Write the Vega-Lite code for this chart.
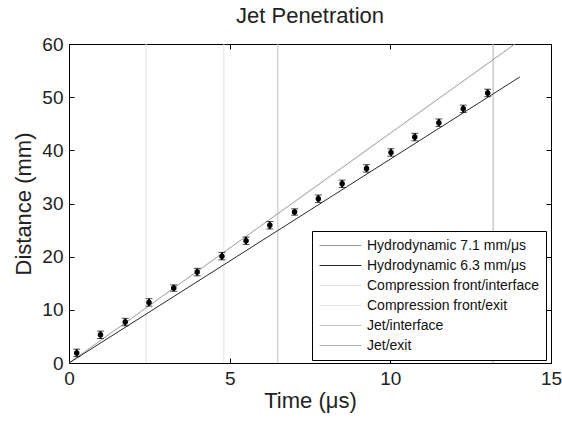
{
  "$schema": "https://vega.github.io/schema/vega-lite/v6.json",
  "autosize": {"type": "none"},
  "width": 482,
  "height": 319,
  "padding": {"left": 69, "top": 44, "right": 11, "bottom": 58},
  "background": "white",
  "title": {"text": "Jet Penetration", "font": "Liberation Sans", "fontSize": 22, "fontWeight": "normal", "color": "#222", "offset": 7, "anchor": "middle"},
  "config": {
    "view": {"stroke": "black", "strokeWidth": 1},
    "axis": {
      "grid": false,
      "domainColor": "black",
      "tickColor": "black",
      "tickSize": -5,
      "labelFont": "Liberation Sans",
      "labelFontSize": 19,
      "labelColor": "#222",
      "titleFont": "Liberation Sans",
      "titleFontSize": 22,
      "titleFontWeight": "normal",
      "titleColor": "#222"
    },
    "legend": {
      "orient": "none",
      "legendX": 243,
      "legendY": 187,
      "title": null,
      "strokeColor": "black",
      "fillColor": "white",
      "padding": 7,
      "rowPadding": 5,
      "symbolType": "M-1,0H5",
      "symbolSize": 196,
      "symbolStrokeWidth": 1,
      "symbolFillColor": "transparent",
      "labelFont": "Liberation Sans",
      "labelFontSize": 14,
      "labelColor": "#111",
      "labelOffset": 33,
      "labelLimit": 300
    }
  },
  "datasets": {
    "points": [
      {"t": 0.24, "d": 1.9, "err": 0.7},
      {"t": 0.98, "d": 5.3, "err": 0.7},
      {"t": 1.75, "d": 7.7, "err": 0.7},
      {"t": 2.49, "d": 11.4, "err": 0.7},
      {"t": 3.26, "d": 14.1, "err": 0.6},
      {"t": 3.99, "d": 17.1, "err": 0.7},
      {"t": 4.76, "d": 20.1, "err": 0.7},
      {"t": 5.51, "d": 23.0, "err": 0.7},
      {"t": 6.25, "d": 25.9, "err": 0.7},
      {"t": 7.02, "d": 28.4, "err": 0.6},
      {"t": 7.76, "d": 30.9, "err": 0.7},
      {"t": 8.50, "d": 33.7, "err": 0.7},
      {"t": 9.26, "d": 36.6, "err": 0.7},
      {"t": 10.02, "d": 39.6, "err": 0.7},
      {"t": 10.76, "d": 42.5, "err": 0.7},
      {"t": 11.51, "d": 45.2, "err": 0.7},
      {"t": 12.27, "d": 47.8, "err": 0.7},
      {"t": 13.03, "d": 50.8, "err": 0.7}
    ],
    "lines": [
      {"series": "Hydrodynamic 7.1 mm/\u03bcs", "t": 0, "d": 0},
      {"series": "Hydrodynamic 7.1 mm/\u03bcs", "t": 13.88, "d": 60},
      {"series": "Hydrodynamic 6.3 mm/\u03bcs", "t": 0, "d": 0},
      {"series": "Hydrodynamic 6.3 mm/\u03bcs", "t": 14.03, "d": 53.8}
    ],
    "vlines": [
      {"series": "Compression front/interface", "t": 2.4},
      {"series": "Compression front/exit", "t": 4.82},
      {"series": "Jet/interface", "t": 6.5},
      {"series": "Jet/exit", "t": 13.2}
    ]
  },
  "resolve": {"axis": {"x": "independent", "y": "independent"}},
  "layer": [
    {
      "data": {"name": "vlines"},
      "mark": {"type": "rule", "strokeWidth": 1},
      "encoding": {
        "x": {"field": "t", "type": "quantitative", "scale": {"domain": [0, 15], "nice": false},
              "axis": {"orient": "bottom", "title": "Time (\u03bcs)", "values": [0, 5, 10, 15], "labelPadding": 11, "titlePadding": 2, "labelFlush": false}},
        "color": {"field": "series", "type": "nominal",
          "scale": {"domain": ["Hydrodynamic 7.1 mm/\u03bcs", "Hydrodynamic 6.3 mm/\u03bcs", "Compression front/interface", "Compression front/exit", "Jet/interface", "Jet/exit"],
                    "range": ["#9a9a9a", "#2a2a2a", "#e4e1da", "#e2e2e2", "#c2c2c2", "#b0b0b0"]}}
      }
    },
    {
      "data": {"name": "lines"},
      "mark": {"type": "line", "strokeWidth": 1, "clip": true},
      "encoding": {
        "x": {"field": "t", "type": "quantitative", "scale": {"domain": [0, 15], "nice": false},
              "axis": {"orient": "top", "labels": false, "title": null, "values": [0, 5, 10, 15]}},
        "y": {"field": "d", "type": "quantitative", "scale": {"domain": [0, 60], "nice": false},
              "axis": {"orient": "right", "labels": false, "title": null, "values": [0, 10, 20, 30, 40, 50, 60]}},
        "color": {"field": "series", "type": "nominal"},
        "detail": {"field": "series"}
      }
    },
    {
      "data": {"name": "points"},
      "mark": {"type": "errorbar", "ticks": {"size": 7, "color": "black", "strokeWidth": 1.5}, "rule": {"color": "black", "strokeWidth": 2}},
      "encoding": {
        "x": {"field": "t", "type": "quantitative", "axis": null},
        "y": {"field": "d", "type": "quantitative", "axis": null},
        "yError": {"field": "err"}
      }
    },
    {
      "data": {"name": "points"},
      "mark": {"type": "point", "filled": true, "shape": "circle", "size": 30, "color": "black", "opacity": 1},
      "encoding": {
        "x": {"field": "t", "type": "quantitative", "axis": null},
        "y": {"field": "d", "type": "quantitative",
              "axis": {"orient": "left", "title": "Distance (mm)", "values": [0, 10, 20, 30, 40, 50, 60], "labelPadding": 11, "titlePadding": 6, "labelFlush": false}}
      }
    }
  ]
}
